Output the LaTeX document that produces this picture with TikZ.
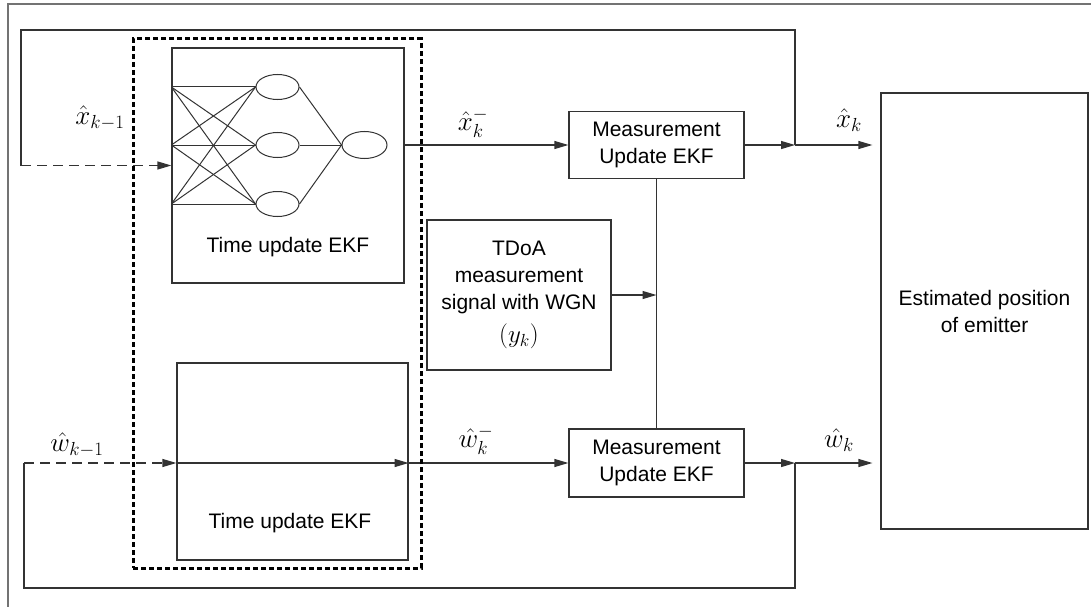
\RequirePackage{fix-cm}
\documentclass[tikz,border=0pt]{standalone}
\usepackage{fontspec}
\setmainfont{Liberation Sans}
\usepackage{amsmath}
\usepackage{tikz}
\usetikzlibrary{arrows.meta,calc,positioning}
\usetikzlibrary{shapes.geometric}
\tikzset{
	blk/.style={draw=black!80, line width=1.2pt, rectangle, inner sep=0pt, align=center},
	neuron/.style={draw=black!80, line width=1pt, ellipse, minimum width=43pt, minimum height=25pt, inner sep=0pt},
	wire/.style={draw=black!80, line width=1.2pt},
	sig/.style={wire, -{Triangle[length=14pt,width=8pt]}},
	lbl/.style={font=\fontsize{27}{30}\selectfont, inner sep=0pt},
	grpbox/.style={draw=black, line width=3pt, dash pattern=on 5pt off 3pt, rectangle, inner sep=0pt}
}

\begin{document}
\begin{tikzpicture}[x=1pt,y=-1pt,font=\fontsize{21}{27}\selectfont]
\useasboundingbox (0,0) rectangle (1091,607);
\draw[black!55, line width=1.5pt] (1091,4) -- (8,4) -- (8,607);

% time update blocks
\node[blk, minimum width=232pt, minimum height=235pt] (tuX) at (288,165.5) {};
\node[blk, minimum width=231pt, minimum height=197pt] (tuW) at (292.5,461.5) {};
\node (tuXtext) at (288,247) {Time update EKF};
\node (tuWtext) at (290,523) {Time update EKF};

% small network
\foreach \n/\y in {1/87,2/145,3/204}
	\node[neuron] (h\n) at (277.5,\y) {};
\node[neuron, minimum width=45pt, minimum height=27pt] (o) at (364.5,145) {};
\foreach \i in {1,2,3} {
	\coordinate (in\i) at (tuX.west |- h\i);
	\draw[wire, line width=1pt] (h\i.east) -- (o.west);
	\foreach \j in {1,2,3}
		\draw[wire, line width=1pt] (in\i) -- (h\j.west);
}

% measurement side
\node[blk, minimum width=175pt, minimum height=67pt] (mX) at (656.5,145) {Measurement\\Update EKF};
\node[blk, minimum width=175pt, minimum height=68pt] (mW) at (656.5,463) {Measurement\\Update EKF};
\node[blk, minimum width=184pt, minimum height=150pt] (tdoa) at (519,295) {TDoA\\measurement\\signal with WGN\\[6pt]{\fontsize{25}{27}\selectfont$(y_k)$}};
\node[blk, minimum width=207pt, minimum height=436pt] (est) at (984.5,311) {Estimated position\\of emitter};

\coordinate (jx) at (795,145);
\coordinate (jw) at (795,463);
\coordinate (fx) at (21,165.5);
\coordinate (fw) at (24,463);

% x branch
\draw[sig, dash pattern=on 10pt off 6pt] (fx) -- (tuX.west);
\draw[sig] (tuX.east |- o) -- (mX.west);
\draw[sig] (mX.east) -- (jx);
\draw[sig, shorten >=8pt] (jx) -- (est.west |- jx);
\draw[wire] (jx) -- ++(0,-115) -| (fx);

% w branch
\draw[sig, dash pattern=on 10pt off 6pt] (fw) -- (tuW.west |- fw);
\draw[sig] (tuW.west |- fw) -- (tuW.east |- fw);
\draw[sig] (tuW.east |- fw) -- (mW.west);
\draw[sig] (mW.east) -- (jw);
\draw[sig, shorten >=8pt] (jw) -- (est.west |- jw);
\draw[wire] (jw) -- ++(0,125) -| (fw);

\draw[wire] (mX.south) -- (mW.north);
\draw[sig] (tdoa.east) -- (tdoa.east -| mX.south);

% signal names
\node[lbl] (xkprev) at (100,118) {$\hat{x}_{k-1}$};
\node[lbl] (xkpri) at (473,123) {$\hat{x}_k^-$};
\node[lbl] (xkest) at (849,120) {$\hat{x}_k$};
\node[lbl] (wkprev) at (77,445) {$\hat{w}_{k-1}$};
\node[lbl] (wkpri) at (476,440) {$\hat{w}_k^-$};
\node[lbl] (wkest) at (839,440) {$\hat{w}_k$};

\node[grpbox, minimum width=288pt, minimum height=529pt] (grp) at (277,303.5) {};

\end{tikzpicture}
\end{document}
